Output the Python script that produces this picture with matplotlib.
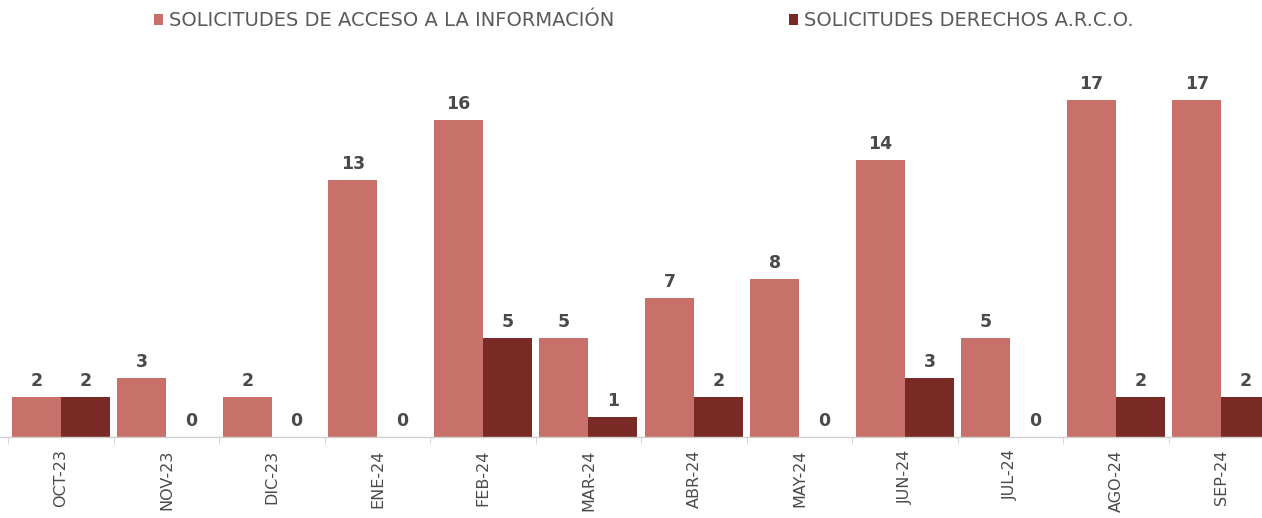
import numpy as np
from matplotlib import pyplot as plt
from matplotlib.ticker import FixedLocator

# datos
meses = ['OCT-23', 'NOV-23', 'DIC-23', 'ENE-24', 'FEB-24', 'MAR-24',
         'ABR-24', 'MAY-24', 'JUN-24', 'JUL-24', 'AGO-24', 'SEP-24']
acceso = [2, 3, 2, 13, 16, 5, 7, 8, 14, 5, 17, 17]
arco = [2, 0, 0, 0, 5, 1, 2, 0, 3, 0, 2, 2]

color_acceso = '#C8706A'
color_arco = '#7A2A24'
gris = '#4a4a4a'

fig = plt.figure(figsize=(12.62, 5.18), dpi=100)
ax = fig.add_axes([0, 81 / 518, 1, (518 - 81 - 60) / 518])

x = np.arange(len(meses))
w = 0.4645
b1 = ax.bar(x - w / 2, acceso, w, color=color_acceso,
            label='SOLICITUDES DE ACCESO A LA INFORMACIÓN')
b2 = ax.bar(x + w / 2, arco, w, color=color_arco,
            label='SOLICITUDES DERECHOS A.R.C.O.')

for barras in (b1, b2):
    ax.bar_label(barras, padding=5, fontsize=12.5, fontweight='bold', color=gris)

ax.set_xlim(-0.578, 11.384)
ax.set_ylim(0, 377 / 19.8)

for s in ['top', 'right', 'left']:
    ax.spines[s].set_visible(False)
ax.spines['bottom'].set_color('#d0d0d0')
ax.spines['bottom'].set_linewidth(1)

ax.set_yticks([])
ax.set_xticks(x)
ax.set_xticklabels(meses, rotation=90, fontsize=11.5, color=gris, va='top')
ax.tick_params(axis='x', which='major', length=0, pad=9)
ax.xaxis.set_minor_locator(FixedLocator(x - 0.5))
ax.tick_params(axis='x', which='minor', length=5, color='#d0d0d0')

fig.legend(loc='center', bbox_to_anchor=(0.51, 1 - 21 / 518), ncol=2,
           frameon=False, fontsize=14, labelcolor='#5a5a5a',
           handlelength=0.45, handleheight=0.45, handletextpad=0.3,
           columnspacing=9)

fig.savefig('out.png', dpi=100)
